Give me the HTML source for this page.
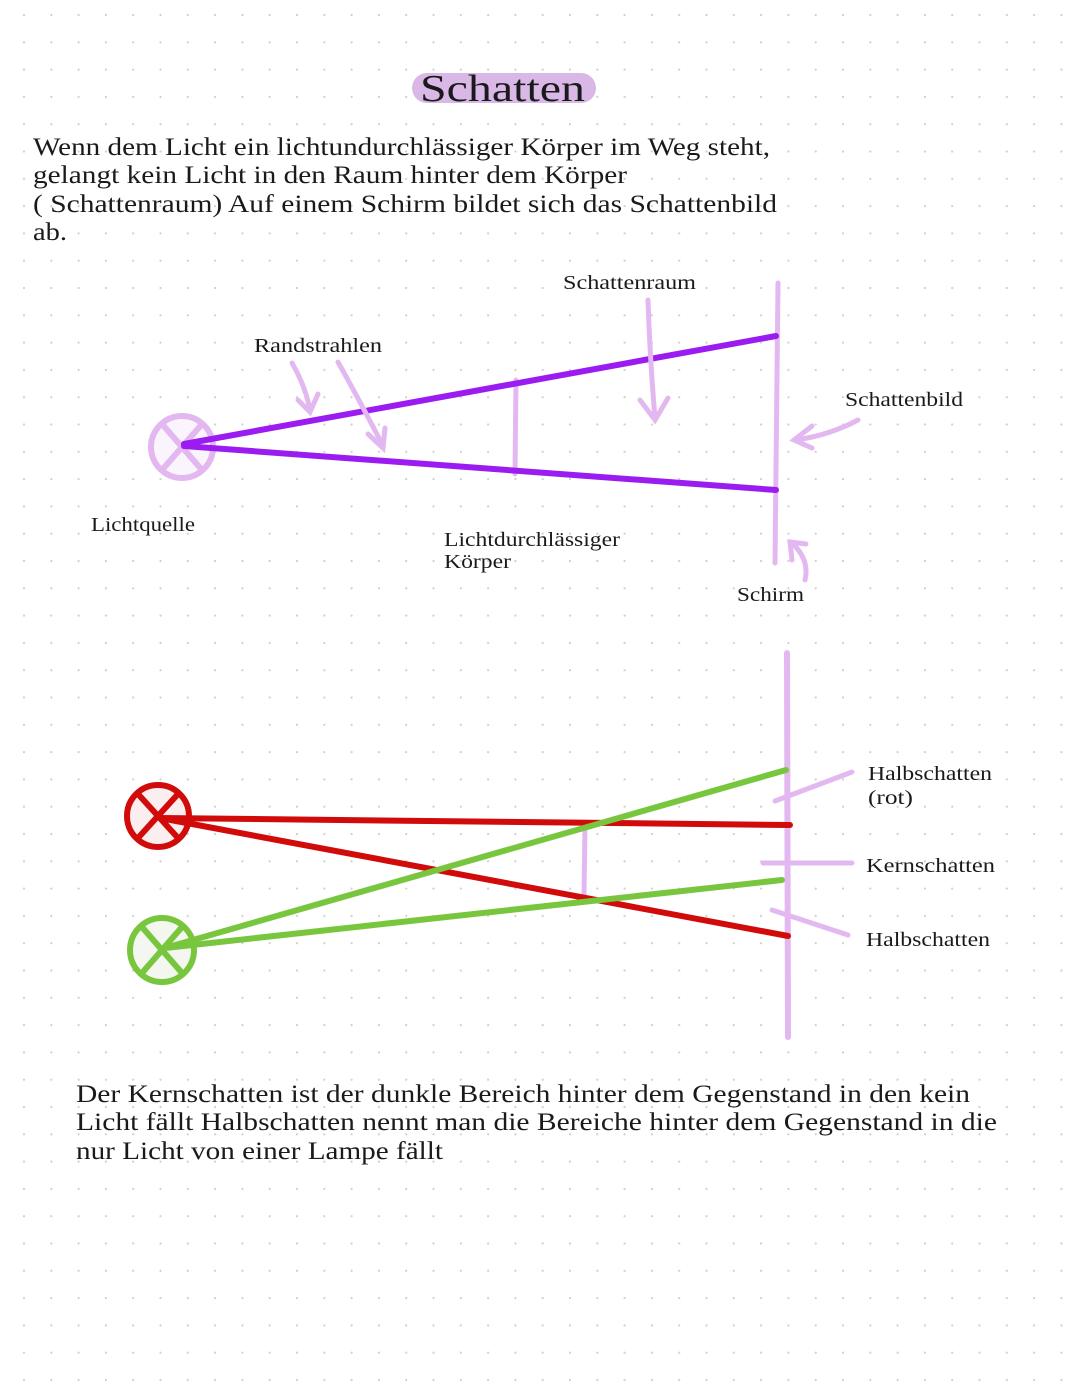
<!DOCTYPE html>
<html><head><meta charset="utf-8"><style>
html,body{margin:0;padding:0;background:#fff}
svg{display:block}
text{font-family:"Liberation Serif",serif;fill:#1a1a1a}
</style></head><body>
<svg width="1080" height="1394" viewBox="0 0 1080 1394" xmlns="http://www.w3.org/2000/svg">
<defs>
<pattern id="dots" x="23" y="14" width="27.3" height="27.3" patternUnits="userSpaceOnUse">
<circle cx="1" cy="1" r="1.1" fill="#cfcfcf"/>
</pattern>
</defs>
<rect width="1080" height="1394" fill="url(#dots)"/>

<!-- Title -->
<rect x="412" y="73" width="184" height="30" rx="15" fill="#d9b8e8"/>
<text x="420" y="101" font-size="38" textLength="165" lengthAdjust="spacingAndGlyphs">Schatten</text>

<g font-size="25" lengthAdjust="spacingAndGlyphs">
<text x="33" y="155" textLength="737" lengthAdjust="spacingAndGlyphs">Wenn dem Licht ein lichtundurchlässiger Körper im Weg steht,</text>
<text x="33" y="183" textLength="594" lengthAdjust="spacingAndGlyphs">gelangt kein Licht in den Raum hinter dem Körper</text>
<text x="33" y="212" textLength="744" lengthAdjust="spacingAndGlyphs">( Schattenraum) Auf einem Schirm bildet sich das Schattenbild</text>
<text x="33" y="240" textLength="34" lengthAdjust="spacingAndGlyphs">ab.</text>
</g>

<!-- Diagram 1 -->
<g stroke-linecap="round" fill="none">
<circle cx="182" cy="447" r="31" stroke="#e3b8f0" stroke-width="6" fill="#faf4fc"/>
<line x1="162" y1="424" x2="202" y2="470" stroke="#e3b8f0" stroke-width="6"/>
<line x1="202" y1="424" x2="162" y2="470" stroke="#e3b8f0" stroke-width="6"/>
<line x1="778" y1="283" x2="775" y2="563" stroke="#e3b8f0" stroke-width="5"/>
<line x1="516" y1="380" x2="515" y2="474" stroke="#e3b8f0" stroke-width="5"/>
<line x1="184" y1="444" x2="776" y2="336" stroke="#9b1cf0" stroke-width="6"/>
<line x1="184" y1="446" x2="776" y2="490" stroke="#9b1cf0" stroke-width="6"/>
<g stroke="#e3b8f0" stroke-width="5">
<path d="M292 363 Q305 385 310 410"/><path d="M298 400 L310 412 L318 394"/>
<path d="M338 362 Q362 405 383 446"/><path d="M368 434 L383 448 L385 428"/>
<path d="M648 300 Q650 360 655 418"/><path d="M640 400 L655 420 L668 398"/>
<path d="M858 420 Q830 435 796 440"/><path d="M812 426 L794 440 L812 448"/>
<path d="M805 580 Q810 560 792 543"/><path d="M792 560 L790 542 L806 544"/>
</g>
</g>
<g font-size="20">
<text x="563" y="289" textLength="133" lengthAdjust="spacingAndGlyphs">Schattenraum</text>
<text x="254" y="352" textLength="128" lengthAdjust="spacingAndGlyphs">Randstrahlen</text>
<text x="845" y="406" textLength="118" lengthAdjust="spacingAndGlyphs">Schattenbild</text>
<text x="91" y="531" textLength="104" lengthAdjust="spacingAndGlyphs">Lichtquelle</text>
<text x="444" y="546" textLength="176" lengthAdjust="spacingAndGlyphs">Lichtdurchlässiger</text>
<text x="444" y="568" textLength="67" lengthAdjust="spacingAndGlyphs">Körper</text>
<text x="737" y="601" textLength="67" lengthAdjust="spacingAndGlyphs">Schirm</text>
</g>

<!-- Diagram 2 -->
<g stroke-linecap="round" fill="none">
<line x1="787" y1="653" x2="788" y2="1037" stroke="#e3b8f0" stroke-width="6"/>
<line x1="585" y1="826" x2="584" y2="895" stroke="#e3b8f0" stroke-width="5"/>
<line x1="775" y1="801" x2="852" y2="772" stroke="#e3b8f0" stroke-width="5"/>
<line x1="763" y1="863" x2="852" y2="863" stroke="#e3b8f0" stroke-width="5"/>
<line x1="772" y1="910" x2="848" y2="935" stroke="#e3b8f0" stroke-width="5"/>
<circle cx="158" cy="816" r="31" stroke="#d10a0a" stroke-width="6" fill="#fbeeee"/>
<line x1="138" y1="794" x2="178" y2="838" stroke="#d10a0a" stroke-width="6"/>
<line x1="178" y1="794" x2="138" y2="838" stroke="#d10a0a" stroke-width="6"/>
<circle cx="162" cy="950" r="32" stroke="#78c63e" stroke-width="6" fill="#f3f7ef"/>
<line x1="142" y1="927" x2="182" y2="973" stroke="#78c63e" stroke-width="6"/>
<line x1="182" y1="927" x2="142" y2="973" stroke="#78c63e" stroke-width="6"/>
<line x1="160" y1="818" x2="790" y2="825" stroke="#d10a0a" stroke-width="6"/>
<line x1="160" y1="818" x2="788" y2="936" stroke="#d10a0a" stroke-width="6"/>
<line x1="165" y1="948" x2="786" y2="770" stroke="#78c63e" stroke-width="6"/>
<line x1="165" y1="948" x2="782" y2="880" stroke="#78c63e" stroke-width="6"/>
</g>
<g font-size="20">
<text x="868" y="780" textLength="124" lengthAdjust="spacingAndGlyphs">Halbschatten</text>
<text x="868" y="804" textLength="45" lengthAdjust="spacingAndGlyphs">(rot)</text>
<text x="866" y="872" textLength="129" lengthAdjust="spacingAndGlyphs">Kernschatten</text>
<text x="866" y="946" textLength="124" lengthAdjust="spacingAndGlyphs">Halbschatten</text>
</g>

<g font-size="25">
<text x="76" y="1102" textLength="894" lengthAdjust="spacingAndGlyphs">Der Kernschatten ist der dunkle Bereich hinter dem Gegenstand in den kein</text>
<text x="76" y="1130" textLength="921" lengthAdjust="spacingAndGlyphs">Licht fällt  Halbschatten nennt man die Bereiche hinter dem Gegenstand in die</text>
<text x="76" y="1159" textLength="367" lengthAdjust="spacingAndGlyphs">nur Licht von einer Lampe fällt</text>
</g>
</svg>
</body></html>
